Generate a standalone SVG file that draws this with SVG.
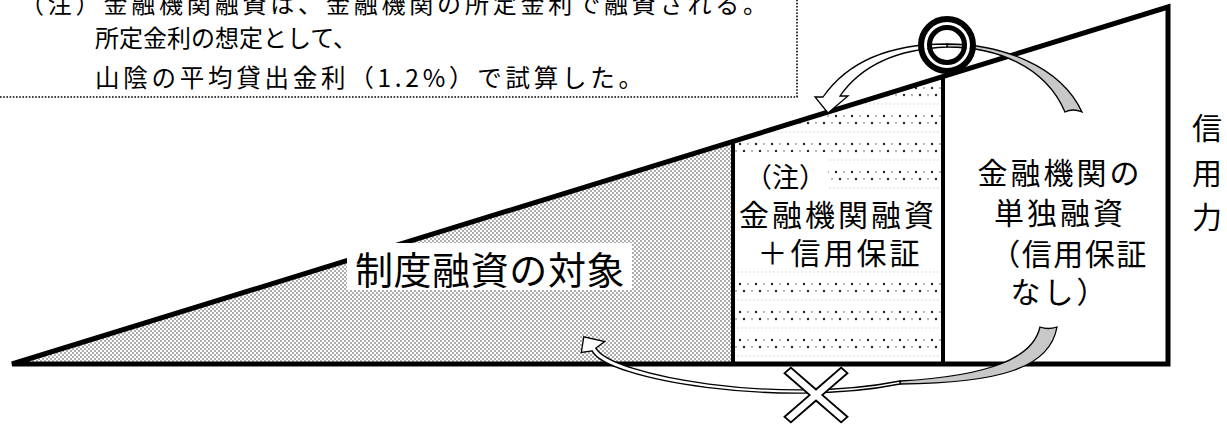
<svg xmlns="http://www.w3.org/2000/svg" width="1227" height="425" viewBox="0 0 1227 425">
<style>
text{font-family:"Noto Sans CJK JP","Noto Sans CJK SC",sans-serif;fill:#000}
.note{font-size:24px}
.lbl{font-size:30px;letter-spacing:3px}
.big{font-size:38px;letter-spacing:0.6px}
.outline{fill:none;stroke:#000;stroke-width:5}
.divider{fill:none;stroke:#000;stroke-width:4}
.arw{stroke:#000;stroke-width:1.3;stroke-linejoin:miter}
</style>
<defs>
<pattern id="dense" width="4" height="4" patternUnits="userSpaceOnUse">
<rect width="4" height="4" fill="#fff"/>
<circle cx="1" cy="1" r="0.75" fill="#333"/>
<circle cx="3" cy="3" r="0.75" fill="#333"/>
</pattern>
<pattern id="sparse" width="16" height="28" patternUnits="userSpaceOnUse">
<rect width="16" height="28" fill="#fff"/>
<circle cx="4" cy="4" r="1.2" fill="#222"/>
<circle cx="12" cy="4" r="0.9" fill="#999"/>
<circle cx="8" cy="11" r="1.2" fill="#222"/>
<circle cx="0" cy="11" r="0.9" fill="#999"/>
<circle cx="16" cy="11" r="0.9" fill="#999"/>
<circle cx="2" cy="20" r="0.7" fill="#ccc"/>
<circle cx="6" cy="20" r="0.7" fill="#ccc"/>
<circle cx="10" cy="20" r="0.7" fill="#ccc"/>
<circle cx="14" cy="20" r="0.7" fill="#ccc"/>
</pattern>
</defs>

<g id="note-box">
<path d="M0,97 H797 V-2" fill="none" stroke="#000" stroke-width="1.6" stroke-dasharray="1.6 1.6"/>
<text class="note" x="20" y="13" textLength="747" lengthAdjust="spacing">（注）金融機関融資は、金融機関の所定金利で融資される。</text>
<text class="note" x="95" y="47">所定金利の想定として、</text>
<text class="note" x="95" y="87" style="font-size:24.5px" textLength="548" lengthAdjust="spacing">山陰の平均貸出金利（1.2%）で試算した。</text>
</g>

<g id="regions">
<polygon points="12,364 733,364 733,142" fill="url(#dense)"/>
<polygon points="733,364 943,364 943,77 733,142" fill="url(#sparse)"/>
</g>

<g id="frame">
<path class="outline" d="M12,364 L1168,7 L1168,364 Z"/>
<path class="divider" d="M733,142 V364 M943,77 V364"/>
</g>

<g id="node-seido">
<rect x="347" y="243" width="285" height="47" fill="#fff"/>
<text class="big" x="490" y="284" text-anchor="middle">制度融資の対象</text>
</g>

<g id="node-hosho">
<rect x="735" y="152" width="93" height="38" fill="#fff"/>
<rect x="735" y="190" width="206" height="80" fill="#fff"/>
<text class="lbl" x="745" y="187" style="font-size:27px;letter-spacing:0">（注）</text>
<text class="lbl" x="838" y="226" text-anchor="middle">金融機関融資</text>
<text class="lbl" x="840" y="264" text-anchor="middle">＋信用保証</text>
</g>

<g id="node-tandoku">
<text class="lbl" x="1060" y="184" text-anchor="middle">金融機関の</text>
<text class="lbl" x="1060" y="224" text-anchor="middle">単独融資</text>
<text class="lbl" x="1069" y="265" text-anchor="middle" style="letter-spacing:1.5px">（信用保証</text>
<text class="lbl" x="1060" y="303" text-anchor="middle">なし）</text>
</g>

<g id="axis-label">
<text class="lbl" x="1207" y="139" text-anchor="middle" style="letter-spacing:0">信</text>
<text class="lbl" x="1207" y="184" text-anchor="middle" style="letter-spacing:0">用</text>
<text class="lbl" x="1207" y="228" text-anchor="middle" style="letter-spacing:0">力</text>
</g>

<g id="connectors">
<path class="arw" fill="#c8c8c8" d="M947,44 C1000,44 1060,65 1082,112 Q1073,108 1065,112 C1045,65 995,47 947,47 Z"/>
<path class="arw" fill="#fff" d="M947,44 Q860,44 823,97 L815,97 L828,113 L848,96 L840,96 Q872,50 947,47 Z"/>
<path class="arw" fill="#c8c8c8" d="M900,381 C990,376 1033,358 1040,327 Q1048,330 1057,327 C1050,368 1000,383 900,384 Z"/>
<path class="arw" fill="#fff" d="M592.2,350.9 L581.3,352.4 L583.8,336.8 L604.7,341.6 L595.8,348.1 C611.8,376.2 780,405 900,381 L900,384 C780,408 606,380 592.2,350.9 Z"/>
</g>

<g id="mark-good">
<circle cx="947" cy="45" r="21.5" fill="none" stroke="#fff" stroke-width="3"/>
<circle cx="947" cy="45" r="26" fill="none" stroke="#000" stroke-width="6"/>
<circle cx="947" cy="45" r="17.5" fill="none" stroke="#000" stroke-width="5"/>
</g>

<g id="mark-bad">
<polygon transform="translate(816,395) scale(1,0.87) rotate(45)" points="-4.5,-40 4.5,-40 4.5,-4.5 40,-4.5 40,4.5 4.5,4.5 4.5,40 -4.5,40 -4.5,4.5 -40,4.5 -40,-4.5 -4.5,-4.5" fill="#fff" stroke="#000" stroke-width="2"/>
</g>
</svg>
